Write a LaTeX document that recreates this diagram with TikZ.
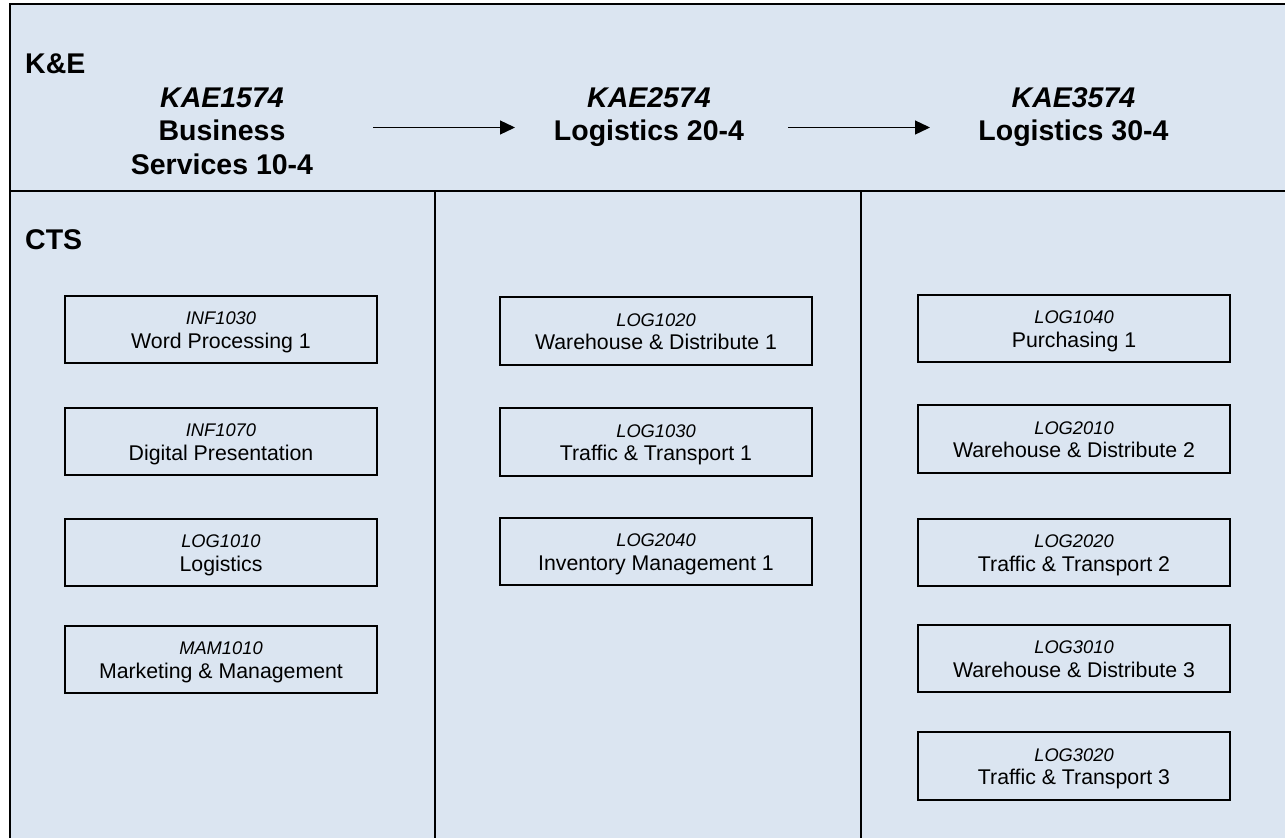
\documentclass[tikz,border=0pt]{standalone}
\usepackage{fontspec}
\setmainfont{Liberation Sans}
\usetikzlibrary{arrows.meta}
\definecolor{bgblue}{HTML}{DBE5F1}
\begin{document}
\begin{tikzpicture}[x=1pt,y=-1pt,
  frameline/.style={line width=2.7pt,black},
  colline/.style={line width=2.2pt,black},
  coursebox/.style={draw=black,line width=2pt,minimum width=312pt,minimum height=67pt,inner sep=0pt},
  codetxt/.style={anchor=base,inner sep=0pt,font=\fontsize{18.3}{22}\selectfont\itshape},
  bodytxt/.style={anchor=base,inner sep=0pt,font=\fontsize{21.3}{25}\selectfont},
  headtxt/.style={anchor=base,inner sep=0pt,font=\fontsize{28.5}{33.5}\selectfont\bfseries},
  headcode/.style={headtxt,font=\fontsize{28.5}{33.5}\selectfont\bfseries\itshape},
  arr/.style={line width=1.3pt,-{Triangle[length=15pt,width=14pt]}}
]
\useasboundingbox (0,0) rectangle (1285,838);
\fill[white] (0,0) rectangle (1285,838);
\fill[bgblue] (10,4) rectangle (1285,838);
% frame lines
\draw[frameline] (10,838) -- (10,4) -- (1285,4);
\draw[frameline] (10,191) -- (1285,191);
\draw[colline] (435,191) -- (435,838);
\draw[colline] (861,191) -- (861,838);

% section labels
\node[headtxt,anchor=base west] (ke) at (25,73) {K\&E};
\node[headtxt,anchor=base west] (cts) at (25,249) {CTS};

% headings
\node[headcode] (h1a) at (222,107) {KAE1574};
\node[headtxt] (h1b) at (222,140.5) {Business};
\node[headtxt] (h1c) at (222,174) {Services 10-4};
\node[headcode] (h2a) at (649,107) {KAE2574};
\node[headtxt] (h2b) at (649,140.5) {Logistics 20-4};
\node[headcode] (h3a) at (1073.5,107) {KAE3574};
\node[headtxt] (h3b) at (1073.5,140.5) {Logistics 30-4};

% arrows
\coordinate (a1s) at (373,127.5);
\coordinate (a1e) at (515,127.5);
\coordinate (a2s) at (788,127.5);
\coordinate (a2e) at (930,127.5);
\draw[arr] (a1s) -- (a1e);
\draw[arr] (a2s) -- (a2e);

% course boxes
\newcommand{\coursenode}[5]{%
  \node[coursebox,minimum height=#3] (#1) at (#2) {};
  \node[codetxt] (#1c) at ([yshift=5pt]#1.center) {#4};
  \node[bodytxt] (#1t) at ([yshift=-18.5pt]#1.center) {#5};
}
\coursenode{inf1030}{221,329.5}{67pt}{INF1030}{Word Processing 1}
\coursenode{inf1070}{221,441.5}{67pt}{INF1070}{Digital Presentation}
\coursenode{log1010}{221,552.5}{67pt}{LOG1010}{Logistics}
\coursenode{mam1010}{221,659.5}{67pt}{MAM1010}{Marketing \& Management}

\coursenode{log1020}{656,331}{68pt}{LOG1020}{Warehouse \& Distribute 1}
\coursenode{log1030}{656,442}{68pt}{LOG1030}{Traffic \& Transport 1}
\coursenode{log2040}{656,551.5}{67pt}{LOG2040}{Inventory Management 1}

\coursenode{log1040}{1074,328.5}{67pt}{LOG1040}{Purchasing 1}
\coursenode{log2010}{1074,439}{68pt}{LOG2010}{Warehouse \& Distribute 2}
\coursenode{log2020}{1074,552.5}{67pt}{LOG2020}{Traffic \& Transport 2}
\coursenode{log3010}{1074,658.5}{67pt}{LOG3010}{Warehouse \& Distribute 3}
\coursenode{log3020}{1074,766}{68pt}{LOG3020}{Traffic \& Transport 3}
\end{tikzpicture}
\end{document}
